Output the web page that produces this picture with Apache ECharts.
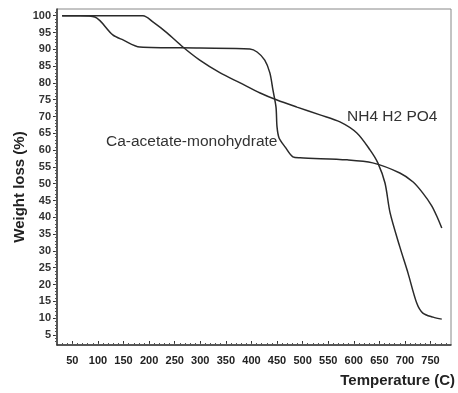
<!DOCTYPE html>
<html>
<head>
<meta charset="utf-8">
<script src="https://cdn.jsdelivr.net/npm/echarts@6/dist/echarts.min.js"></script>
<style>html,body{margin:0;padding:0;background:#fff;}#c{width:458px;height:393px;}</style>
</head>
<body>
<div id="c"></div>
<script>
// Ca-acetate-monohydrate
var caTemp   = [30, 65, 94, 129, 149, 182, 299, 397, 411, 426, 436, 442, 448, 450, 454, 466, 481, 495, 587, 637, 690, 716, 735, 752, 763, 772];
var caWeight = [100, 100, 99.6, 94.3, 92.8, 90.7, 90.4, 90.1, 89.2, 86.8, 83, 77.9, 72.8, 66.9, 63.6, 60.9, 58, 57.7, 57.1, 56.2, 53.2, 50.5, 47.2, 43.5, 40.1, 36.8];
// NH4 H2 PO4
var nhTemp   = [30, 188, 208, 235, 266, 299, 339, 378, 417, 450, 489, 534, 573, 606, 632, 647, 661, 671, 690, 706, 723, 735, 755, 772];
var nhWeight = [100, 100, 98.1, 94.9, 90.7, 86.8, 83, 80, 77, 74.9, 72.8, 70.5, 68.4, 65.1, 60, 56.2, 50.2, 41.3, 31.2, 23.4, 14.5, 11.5, 10.3, 9.7];
// tick labels
var xTicks = [50, 100, 150, 200, 250, 300, 350, 400, 450, 500, 550, 600, 650, 700, 750];
var yTicks = [5, 10, 15, 20, 25, 30, 35, 40, 45, 50, 55, 60, 65, 70, 75, 80, 85, 90, 95, 100];
var xMinor = []; for (var i = 30; i <= 780; i += 10) xMinor.push(i);
var yMinor = []; for (var j = 3; j <= 101; j += 1) yMinor.push(j);

function pairs(a, b) { return a.map(function (v, i) { return [v, b[i]]; }); }

var chart = echarts.init(document.getElementById('c'), null, {renderer: 'canvas'});
var font = 'Liberation Sans, Arial, sans-serif';
chart.setOption({
  animation: false,
  backgroundColor: '#ffffff',
  grid: {left: 57, top: 9, right: 7, bottom: 48, show: true, borderColor: '#888', borderWidth: 1},
  xAxis: [{
    type: 'value', min: 20, max: 790, position: 'bottom',
    axisLine: {show: true, lineStyle: {color: '#333', width: 1.5}},
    axisTick: {show: true, customValues: xTicks, inside: true, length: 4, lineStyle: {color: '#333'}},
    axisLabel: {customValues: xTicks, fontSize: 11, fontWeight: 'bold', color: '#222', margin: 10, fontFamily: font},
    splitLine: {show: false}
  }, {
    type: 'value', min: 20, max: 790, position: 'bottom', offset: 0,
    axisLine: {show: false},
    axisTick: {show: true, customValues: xMinor, inside: true, length: 2, lineStyle: {color: '#555'}},
    axisLabel: {show: false}, splitLine: {show: false}
  }],
  yAxis: [{
    type: 'value', min: 2, max: 102, position: 'left',
    axisLine: {show: true, lineStyle: {color: '#333', width: 1.5}},
    axisTick: {show: true, customValues: yTicks, inside: false, length: 4, lineStyle: {color: '#333'}},
    axisLabel: {customValues: yTicks, fontSize: 11, fontWeight: 'bold', color: '#333', margin: 6, fontFamily: font},
    splitLine: {show: false}
  }, {
    type: 'value', min: 2, max: 102, position: 'left', offset: 0,
    axisLine: {show: false},
    axisTick: {show: true, customValues: yMinor, inside: false, length: 2, lineStyle: {color: '#555'}},
    axisLabel: {show: false}, splitLine: {show: false}
  }],
  series: [{
    name: 'Ca-acetate-monohydrate', type: 'line', xAxisIndex: 0, yAxisIndex: 0,
    data: pairs(caTemp, caWeight), smooth: 0.3, showSymbol: false,
    lineStyle: {color: '#2a2a2a', width: 1.5}
  }, {
    name: 'NH4 H2 PO4', type: 'line', xAxisIndex: 0, yAxisIndex: 0,
    data: pairs(nhTemp, nhWeight), smooth: 0.3, showSymbol: false,
    lineStyle: {color: '#2a2a2a', width: 1.5}
  }],
  graphic: [
    {type: 'text', x: 20, y: 187, rotation: Math.PI / 2,
     style: {text: 'Weight loss (%)', x: 0, y: 0, align: 'center', verticalAlign: 'middle', fontSize: 15, fontWeight: 'bold', fill: '#222', fontFamily: font}},
    {type: 'text', left: 347, top: 109, style: {text: 'NH4 H2 PO4', fontSize: 15.5, fill: '#333', fontFamily: font}},
    {type: 'text', left: 106, top: 134, style: {text: 'Ca-acetate-monohydrate', fontSize: 15.5, fill: '#333', fontFamily: font}},
    {type: 'text', right: 3, top: 373, style: {text: 'Temperature (C)', fontSize: 15, fontWeight: 'bold', fill: '#222', fontFamily: font}}
  ]
});
</script>
</body>
</html>
